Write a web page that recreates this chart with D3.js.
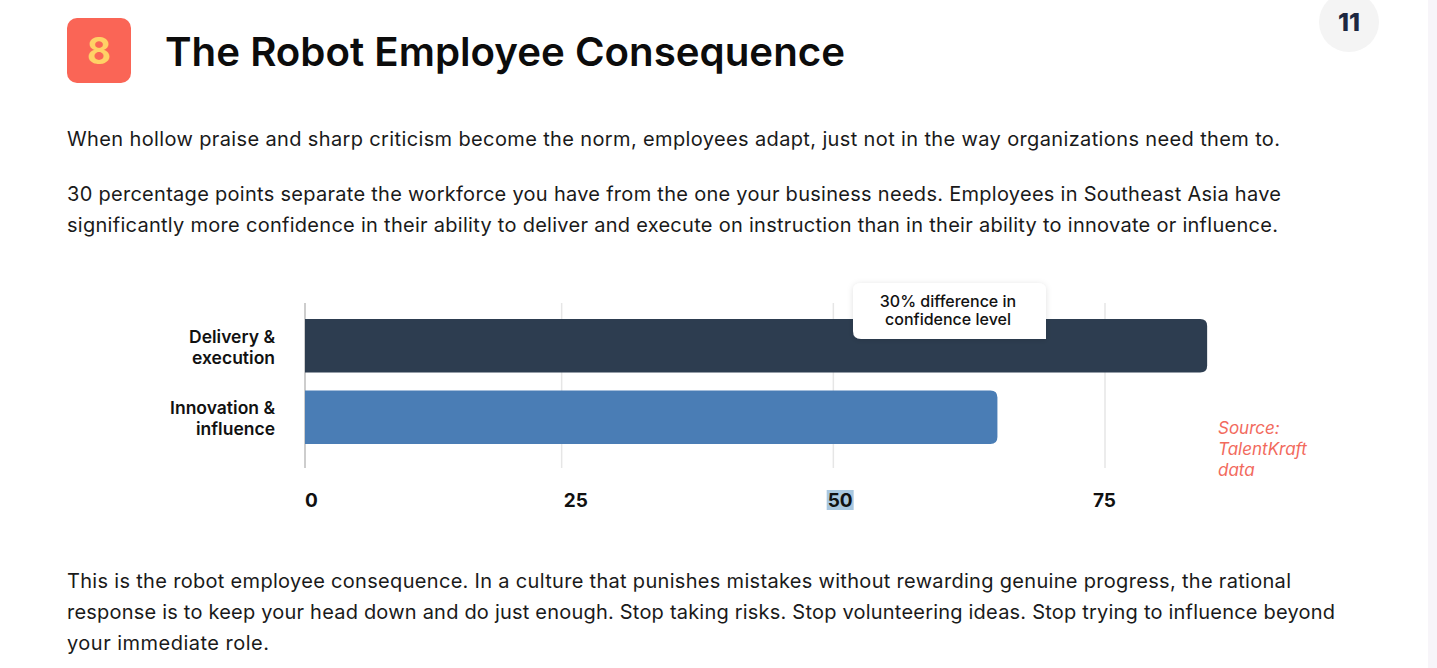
<!DOCTYPE html>
<html>
<head>
<meta charset="utf-8">
<script src="https://cdn.jsdelivr.net/npm/d3@7"></script>
<style>
  html, body { margin: 0; padding: 0; background: #fff; }
  svg { display: block; font-family: Inter, "Noto Sans", sans-serif; }
</style>
</head>
<body>
<svg id="page" width="1437" height="668" viewBox="0 0 1437 668"></svg>
<script>
// --- data -------------------------------------------------------------
const categories = ["Delivery & execution", "Innovation & influence"];
const categoryLines = [["Delivery &", "execution"], ["Innovation &", "influence"]];
const values = [84.4, 65.1];
const tickValues = [0, 25, 50, 75];
const barColors = ["#2d3d50", "#4a7db5"];
const noteLines = ["30% difference in", "confidence level"];
const sourceLines = ["Source:", "TalentKraft", "data"];
const titleText = "The Robot Employee Consequence";
const sectionNumber = "8";
const pageNumber = "11";
const introLines = [
  "When hollow praise and sharp criticism become the norm, employees adapt, just not in the way organizations need them to."
];
const statLines = [
  "30 percentage points separate the workforce you have from the one your business needs. Employees in Southeast Asia have",
  "significantly more confidence in their ability to deliver and execute on instruction than in their ability to innovate or influence."
];
const bodyLines = [
  "This is the robot employee consequence. In a culture that punishes mistakes without rewarding genuine progress, the rational",
  "response is to keep your head down and do just enough. Stop taking risks. Stop volunteering ideas. Stop trying to influence beyond",
  "your immediate role."
];

const svg = d3.select("#page");

svg.append("rect").attr("width", 1437).attr("height", 668).attr("fill", "#fff");
svg.append("rect").attr("x", 1428).attr("width", 9).attr("height", 668).attr("fill", "#f7f5f9");

const defs = svg.append("defs");
const shadow = defs.append("filter").attr("id", "shadow")
  .attr("x", "-20%").attr("y", "-30%").attr("width", "140%").attr("height", "160%");
shadow.append("feDropShadow")
  .attr("dx", 0).attr("dy", 1).attr("stdDeviation", 3)
  .attr("flood-color", "#000").attr("flood-opacity", 0.12);

// --- header -----------------------------------------------------------
svg.append("rect")
  .attr("x", 67).attr("y", 18).attr("width", 64).attr("height", 65)
  .attr("rx", 10).attr("fill", "#fa6556");
svg.append("text")
  .attr("x", 99).attr("y", 64)
  .attr("text-anchor", "middle")
  .attr("font-size", 37).attr("font-weight", 700)
  .attr("fill", "#ffd166")
  .text(sectionNumber);

svg.append("text")
  .attr("x", 165).attr("y", 66)
  .attr("font-size", 40).attr("font-weight", 600)
  .attr("fill", "#0c0c0c")
  .attr("textLength", 680).attr("lengthAdjust", "spacingAndGlyphs")
  .text(titleText);

svg.append("circle").attr("cx", 1349).attr("cy", 22).attr("r", 30).attr("fill", "#f4f4f4");
svg.append("text")
  .attr("x", 1349).attr("y", 31)
  .attr("text-anchor", "middle")
  .attr("font-size", 25).attr("font-weight", 800)
  .attr("fill", "#1c2740")
  .text(pageNumber);

// --- paragraphs -------------------------------------------------------
function paragraph(lines, top, widths) {
  svg.append("g")
    .selectAll("text")
    .data(lines)
    .join("text")
    .attr("x", 67)
    .attr("y", (d, i) => top + i * 31)
    .attr("font-size", 20)
    .attr("fill", "#1a1a1a")
    .attr("textLength", (d, i) => widths[i])
    .attr("lengthAdjust", "spacing")
    .text((d) => d);
}

paragraph(introLines, 146, [1213]);
paragraph(statLines, 201, [1214, 1211]);
paragraph(bodyLines, 588, [1224, 1268, 202]);

// --- chart ------------------------------------------------------------
const plotTop = 303;
const plotBottom = 468;
const plotLeft = 305;

const x = d3.scaleLinear().domain([0, 75]).range([290, 1105]);
const y = d3.scaleBand()
  .domain(categories)
  .range([301, 462])
  .paddingInner(0.25)
  .paddingOuter(0.25);

const chart = svg.append("g").attr("class", "chart");

chart.append("g")
  .selectAll("line")
  .data(tickValues.filter((t) => t > 0))
  .join("line")
  .attr("x1", (d) => x(d)).attr("x2", (d) => x(d))
  .attr("y1", plotTop).attr("y2", plotBottom)
  .attr("stroke", "#e6e6e6")
  .attr("stroke-width", 1.5);

chart.append("line")
  .attr("x1", plotLeft).attr("x2", plotLeft)
  .attr("y1", plotTop).attr("y2", plotBottom)
  .attr("stroke", "#9b9b9b")
  .attr("stroke-width", 1);

function barPath(x0, x1, y0, h, r) {
  return `M${x0},${y0}H${x1 - r}Q${x1},${y0} ${x1},${y0 + r}` +
    `V${y0 + h - r}Q${x1},${y0 + h} ${x1 - r},${y0 + h}H${x0}Z`;
}

chart.append("g")
  .selectAll("path")
  .data(categories)
  .join("path")
  .attr("d", (d, i) => barPath(plotLeft, x(values[i]), y(d), y.bandwidth(), 7))
  .attr("fill", (d, i) => barColors[i]);

// category labels
chart.append("g")
  .selectAll("text")
  .data(categories)
  .join("text")
  .attr("text-anchor", "end")
  .attr("font-size", 17.5)
  .attr("font-weight", 600)
  .attr("fill", "#111")
  .each(function (d, i) {
    const cy = y(d) + y.bandwidth() / 2;
    d3.select(this)
      .selectAll("tspan")
      .data(categoryLines[i])
      .join("tspan")
      .attr("x", 275)
      .attr("y", (t, j) => cy - 3 + j * 21)
      .text((t) => t);
  });

// tick labels
const labelX = d3.scaleLinear().domain([0, 75]).range([311, 1104]);
const axis = chart.append("g")
  .attr("transform", "translate(0,493.5)")
  .call(d3.axisBottom(labelX).tickValues(tickValues).tickSize(0).tickPadding(0));
axis.select(".domain").remove();
axis.selectAll("text")
  .attr("font-family", "Inter, sans-serif")
  .attr("font-size", 19)
  .attr("font-weight", 700)
  .attr("fill", "#111");

// selection highlight behind "50"
axis.selectAll(".tick")
  .filter((d) => d === 50)
  .each(function () {
    const box = d3.select(this).select("text").node().getBBox();
    d3.select(this).insert("rect", "text")
      .attr("x", box.x - 1).attr("y", box.y + 1)
      .attr("width", box.width + 2).attr("height", box.height - 3)
      .attr("fill", "#a9c7df");
  });

// annotation
const note = chart.append("g").attr("transform", "translate(853,283)");
note.append("path")
  .attr("d", "M8,0H185Q193,0 193,8V56H8Q0,56 0,48V8Q0,0 8,0Z")
  .attr("fill", "#fff")
  .attr("filter", "url(#shadow)");
note.append("text")
  .attr("text-anchor", "middle")
  .attr("font-size", 16)
  .attr("font-weight", 500)
  .attr("fill", "#111")
  .selectAll("tspan")
  .data(noteLines)
  .join("tspan")
  .attr("x", 95)
  .attr("y", (d, i) => 23.5 + i * 18)
  .text((d) => d);

// source
chart.append("text")
  .attr("font-size", 17)
  .attr("font-style", "italic")
  .attr("fill", "#f26a5d")
  .selectAll("tspan")
  .data(sourceLines)
  .join("tspan")
  .attr("x", 1218)
  .attr("y", (d, i) => 434 + i * 21)
  .text((d) => d);
</script>
</body>
</html>
